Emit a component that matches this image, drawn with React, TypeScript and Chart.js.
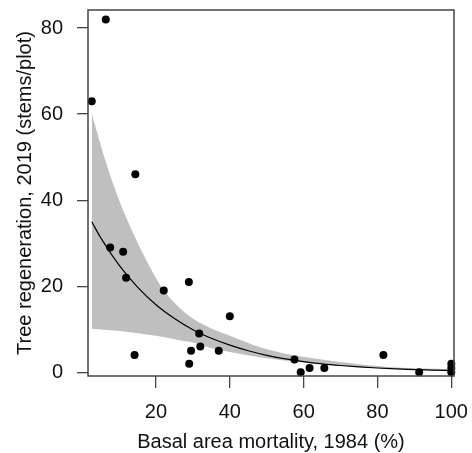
import React, { useEffect, useRef } from "react";
import { Chart, registerables } from "chart.js";

Chart.register(...registerables);

// Observed plots
const mortality = [2.6, 6.4, 14.4, 7.6, 11.1, 11.9, 14.2, 22.1, 28.9, 29.5, 29.0, 31.7, 32.0, 37.0, 40.0, 57.5, 59.2, 61.6, 65.6, 81.6, 91.3, 100, 100, 100];
const regeneration = [63, 82, 46, 29, 28, 22, 4, 19, 21, 5, 2, 9, 6, 5, 13, 3, 0, 1, 1, 4, 0, 2, 1, 0];

// Fitted curve
const fitX = [2.6, 5, 10, 15, 20, 25, 30, 35, 40, 45, 50, 55, 60, 65, 70, 75, 80, 85, 90, 95, 100];
const fitY = [35.0, 31.3, 24.9, 19.8, 15.7, 12.5, 9.9, 7.9, 6.3, 5.0, 3.95, 3.14, 2.5, 1.98, 1.58, 1.25, 1.0, 0.79, 0.63, 0.5, 0.4];

// Confidence band
const bandX = [2.6, 6, 10, 14, 18, 22, 26, 30, 35, 40, 48, 57, 70, 82, 100];
const bandUpper = [60.2, 50.0, 40.0, 32.0, 25.0, 19.2, 15.3, 12.5, 10.2, 8.5, 5.9, 4.0, 2.4, 1.3, 0.7];
const bandLower = [10.1, 9.9, 9.6, 9.2, 8.7, 8.2, 7.5, 6.9, 5.6, 4.7, 3.5, 2.5, 1.5, 0.9, 0.3];

const xTicks = [20, 40, 60, 80, 100];
const yTicks = [0, 20, 40, 60, 80];

const xTitle = "Basal area mortality, 1984 (%)";
const yTitle = "Tree regeneration, 2019 (stems/plot)";

const FONT = "'Liberation Sans', Arial, Helvetica, sans-serif";
const TEXT = "#111111";
const AXIS = "#444444";

const boxPlugin = {
  id: "rbox",
  afterDraw(chart: any) {
    const { ctx, chartArea } = chart;
    ctx.save();
    ctx.strokeStyle = AXIS;
    ctx.lineWidth = 1.5;
    ctx.strokeRect(chartArea.left, chartArea.top, chartArea.right - chartArea.left, chartArea.bottom - chartArea.top);
    ctx.restore();
  },
};

export default function App() {
  const ref = useRef<HTMLCanvasElement | null>(null);

  useEffect(() => {
    document.body.style.margin = "0";
    const canvas = ref.current;
    if (!canvas) return;
    const pts = mortality.map((x, i) => ({ x, y: regeneration[i] }));
    const fit = fitX.map((x, i) => ({ x, y: fitY[i] }));
    const up = bandX.map((x, i) => ({ x, y: bandUpper[i] }));
    const lo = bandX.map((x, i) => ({ x, y: bandLower[i] }));

    const chart = new Chart(canvas, {
      type: "scatter",
      data: {
        datasets: [
          {
            data: pts,
            backgroundColor: "#000",
            borderColor: "#000",
            pointRadius: 4,
            borderWidth: 0,
            showLine: false,
            clip: false as any,
            order: 0,
          },
          {
            data: fit,
            showLine: true,
            borderColor: "#000",
            borderWidth: 1.2,
            pointRadius: 0,
            cubicInterpolationMode: "monotone",
            fill: false,
            order: 1,
          },
          {
            data: up,
            showLine: true,
            borderWidth: 0,
            borderColor: "rgba(0,0,0,0)",
            backgroundColor: "#bfbfbf",
            pointRadius: 0,
            cubicInterpolationMode: "monotone",
            fill: "+1",
            order: 2,
          },
          {
            data: lo,
            showLine: true,
            borderWidth: 0,
            borderColor: "rgba(0,0,0,0)",
            backgroundColor: "#bfbfbf",
            pointRadius: 0,
            cubicInterpolationMode: "monotone",
            fill: false,
            order: 3,
          },
        ] as any,
      },
      options: {
        animation: false,
        responsive: false,
        maintainAspectRatio: false,
        layout: { padding: { top: 10, right: 18, left: 0, bottom: 0 } },
        plugins: {
          legend: { display: false },
          tooltip: { enabled: false },
        },
        scales: {
          x: {
            type: "linear",
            min: 1.58,
            max: 100.73,
            afterBuildTicks: (s: any) => {
              s.ticks = xTicks.map((v) => ({ value: v }));
            },
            afterFit: (s: any) => {
              s.height = 77;
              s.paddingLeft = 0;
              s.paddingRight = 0;
            },
            grid: { drawOnChartArea: false, drawTicks: true, tickLength: 12, color: AXIS, lineWidth: 1.3 },
            border: { display: false },
            ticks: {
              autoSkip: false,
              maxRotation: 0,
              padding: 12,
              color: TEXT,
              font: { family: FONT, size: 20 },
            },
            title: {
              display: true,
              text: xTitle,
              color: TEXT,
              font: { family: FONT, size: 20, lineHeight: 1 },
              padding: { top: 0, bottom: 1 },
            },
          },
          y: {
            type: "linear",
            min: -0.86,
            max: 84.2,
            afterBuildTicks: (s: any) => {
              s.ticks = yTicks.map((v) => ({ value: v }));
            },
            afterFit: (s: any) => {
              s.width = 88;
              s.paddingTop = 0;
              s.paddingBottom = 0;
            },
            grid: { drawOnChartArea: false, drawTicks: true, tickLength: 11, color: AXIS, lineWidth: 1.3 },
            border: { display: false },
            ticks: {
              autoSkip: false,
              padding: 14,
              color: TEXT,
              font: { family: FONT, size: 20 },
            },
            title: {
              display: true,
              text: yTitle,
              color: TEXT,
              font: { family: FONT, size: 20, lineHeight: 1 },
              padding: { top: 15, bottom: 0 },
            },
          },
        },
      } as any,
      plugins: [boxPlugin],
    });
    return () => chart.destroy();
  }, []);

  return (
    <div style={{ position: "absolute", left: 0, top: 0, width: 472, height: 453, background: "#fff" }}>
      <canvas ref={ref} width={472} height={453} style={{ display: "block", width: 472, height: 453 }} />
    </div>
  );
}
